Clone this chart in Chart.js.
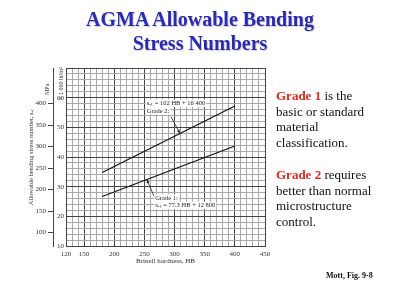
<!DOCTYPE html>
<html><head><meta charset="utf-8">
<script src="https://cdn.jsdelivr.net/npm/chart.js@4/dist/chart.umd.min.js"></script>
<style>
html,body{margin:0;padding:0;background:#fff;width:400px;height:301px;overflow:hidden;}
#wrap{position:relative;width:400px;height:301px;}
canvas{position:absolute;left:0;top:0;}
.title{position:absolute;left:0;width:400px;top:7px;text-align:center;font:bold 20px "Liberation Serif",serif;color:#2a2ab4;line-height:24px;text-shadow:1px 1px 1px rgba(0,0,0,0.2);}
.side{position:absolute;left:276px;font:13px "Liberation Serif",serif;line-height:15.5px;color:#111;white-space:nowrap;}
.red{color:#e3261c;font-weight:bold;}
.cite{position:absolute;left:326px;top:271px;font:bold 8px "Liberation Serif",serif;line-height:10px;color:#111;white-space:nowrap;}
</style></head>
<body>
<div id="wrap">
<canvas id="c" width="400" height="301"></canvas>
<div class="title">AGMA Allowable Bending<br>Stress Numbers</div>
<div class="side" style="top:88px"><span class="red">Grade 1</span> is the<br>basic or standard<br>material<br>classification.</div>
<div class="side" style="top:167px"><span class="red">Grade 2</span> requires<br>better than normal<br>microstructure<br>control.</div>
<div class="cite">Mott, Fig. 9-8</div>
</div>
<script>
// ---- data ----
const hardnessHB = [180, 400];
const grade1Ksi = [26.7, 43.7];
const grade2Ksi = [34.8, 57.2];
const xTickValues = [120, 150, 200, 250, 300, 350, 400, 450];
const ksiTickValues = [10, 20, 30, 40, 50, 60];
const mpaTickValues = [100, 150, 200, 250, 300, 350, 400];
const seriesNames = ['Grade 2', 'Grade 1'];

const KSI_TO_MPA = 6.894757;
const MAJOR = '#444';
const MINOR = '#a8a8a8';
const TXT = '#333';
const FONT = '"Liberation Serif", "Times New Roman", serif';

function range(a, b, s) { const r = []; for (let v = a; v <= b + 1e-9; v += s) r.push(+v.toFixed(4)); return r; }
function fixBox(w, h) {
  return (scale) => {
    if (w != null) scale.width = w;
    if (h != null) scale.height = h;
    scale.paddingLeft = scale.paddingRight = scale.paddingTop = scale.paddingBottom = 0;
  };
}

const annotations = [
  { lines: ['s\u2090\u209c = 102 HB + 16 400', 'Grade 2:'], hb: 254, ksi: 58.1, fromHB: 294, fromKsi: 53.6, toHB: 309, ds: 0 },
  { lines: ['Grade 1:', 's\u2090\u209c = 77.3 HB + 12 800'], hb: 268, ksi: 26.2, fromHB: 266, fromKsi: 26.8, toHB: 254, ds: 1 }
];

function lineValueAt(dsIndex, hb) {
  const d = dsIndex === 0 ? grade2Ksi : grade1Ksi;
  const t = (hb - hardnessHB[0]) / (hardnessHB[1] - hardnessHB[0]);
  return d[0] + t * (d[1] - d[0]);
}

const annotPlugin = {
  id: 'annot',
  afterDatasetsDraw(chart) {
    const { ctx, scales: { x, y, mpa } } = chart;
    ctx.save();
    ctx.font = '6.5px ' + FONT;
    ctx.textBaseline = 'middle';
    ctx.textAlign = 'left';
    annotations.forEach(a => {
      const px = x.getPixelForValue(a.hb);
      let py = y.getPixelForValue(a.ksi);
      a.lines.forEach((t, i) => {
        const w = ctx.measureText(t).width;
        const yy = py + i * 7.5;
        ctx.fillStyle = '#fff';
        ctx.fillRect(px - 1, yy - 3.8, w + 2, 7.6);
        ctx.fillStyle = '#222';
        ctx.fillText(t, px, yy);
      });
      // leader with arrow
      const x1 = x.getPixelForValue(a.fromHB), y1 = y.getPixelForValue(a.fromKsi);
      const x2 = x.getPixelForValue(a.toHB), y2 = y.getPixelForValue(lineValueAt(a.ds, a.toHB));
      ctx.strokeStyle = '#222';
      ctx.lineWidth = 0.8;
      ctx.beginPath(); ctx.moveTo(x1, y1); ctx.lineTo(x2, y2); ctx.stroke();
      const ang = Math.atan2(y2 - y1, x2 - x1);
      ctx.fillStyle = '#222';
      ctx.beginPath();
      ctx.moveTo(x2, y2);
      ctx.lineTo(x2 - 4 * Math.cos(ang - 0.4), y2 - 4 * Math.sin(ang - 0.4));
      ctx.lineTo(x2 - 4 * Math.cos(ang + 0.4), y2 - 4 * Math.sin(ang + 0.4));
      ctx.closePath(); ctx.fill();
    });
    // unit labels
    ctx.fillStyle = TXT;
    ctx.font = '6px ' + FONT;
    ctx.save();
    ctx.translate(mpa.right - 6, chart.chartArea.top + 27);
    ctx.rotate(-Math.PI / 2);
    ctx.fillText('MPa', 0, 0);
    ctx.restore();
    ctx.save();
    ctx.translate(y.left + 8, chart.chartArea.top + 32);
    ctx.rotate(-Math.PI / 2);
    ctx.fillText('\u00d7 1 000 lb/in\u00b2', 0, 0);
    ctx.restore();
    ctx.restore();
  }
};

new Chart(document.getElementById('c'), {
  type: 'line',
  data: {
    datasets: [
      { label: seriesNames[0], data: hardnessHB.map((h, i) => ({ x: h, y: grade2Ksi[i] })), borderColor: '#111', borderWidth: 1.2, pointRadius: 0, fill: false },
      { label: seriesNames[1], data: hardnessHB.map((h, i) => ({ x: h, y: grade1Ksi[i] })), borderColor: '#111', borderWidth: 1.2, pointRadius: 0, fill: false }
    ]
  },
  options: {
    responsive: false,
    animation: false,
    devicePixelRatio: 1,
    layout: { padding: { left: 27, top: 68, right: 135, bottom: 36 } },
    plugins: { legend: { display: false }, tooltip: { enabled: false } },
    scales: {
      x: {
        type: 'linear', position: 'bottom', min: 120, max: 450,
        afterBuildTicks: s => { s.ticks = range(120, 450, 10).map(v => ({ value: v })); },
        afterFit: fixBox(null, 19),
        ticks: { autoSkip: false, maxRotation: 0, minRotation: 0, padding: 4, color: TXT, font: { family: FONT, size: 7 },
          callback: v => xTickValues.includes(v) ? String(v) : '' },
        grid: { drawTicks: false, lineWidth: 1, color: c => (c.tick && (c.tick.value % 50 === 0 || c.tick.value === 120)) ? MAJOR : MINOR },
        border: { display: true, color: MAJOR },
        title: { display: true, text: 'Brinell hardness, HB', padding: 0, color: TXT, font: { family: FONT, size: 7 } }
      },
      y: {
        type: 'linear', position: 'left', min: 10, max: 70, weight: 0,
        afterBuildTicks: s => { s.ticks = range(10, 70, 2).map(v => ({ value: v })); },
        afterFit: fixBox(13, null),
        ticks: { autoSkip: false, padding: 2, color: TXT, font: { family: FONT, size: 7 },
          callback: v => ksiTickValues.includes(v) ? String(v) : '' },
        grid: { drawTicks: false, lineWidth: 1, color: c => (c.tick && c.tick.value % 10 === 0) ? MAJOR : MINOR },
        border: { display: true, color: MAJOR }
      },
      mpa: {
        type: 'linear', axis: 'y', position: 'left', weight: 1,
        min: 10 * KSI_TO_MPA, max: 70 * KSI_TO_MPA,
        afterBuildTicks: s => { s.ticks = mpaTickValues.map(v => ({ value: v })); },
        afterFit: fixBox(26, null),
        ticks: { autoSkip: false, padding: 2, color: TXT, font: { family: FONT, size: 7 } },
        grid: { drawOnChartArea: false, drawTicks: true, tickLength: 5, color: MAJOR },
        border: { display: true, color: MAJOR },
        title: { display: true, text: 'Allowable bending stress number, s\u2090\u209c', padding: 0, color: TXT, font: { family: FONT, size: 6.5 } }
      }
    }
  },
  plugins: [annotPlugin]
});
</script>
</body></html>
